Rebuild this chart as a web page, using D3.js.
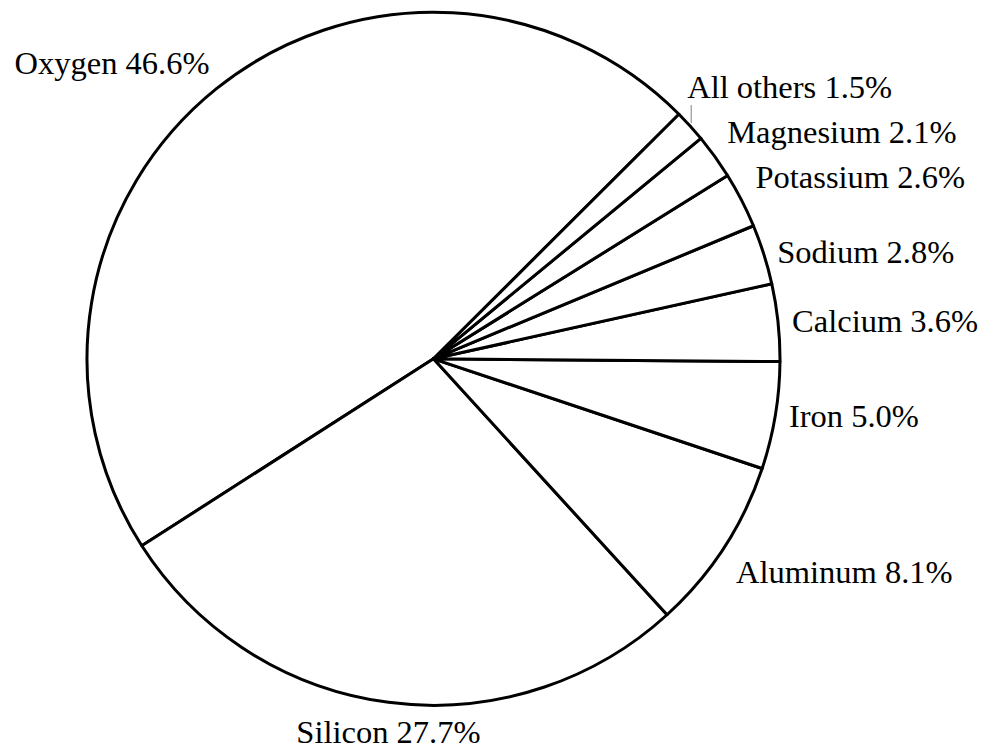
<!DOCTYPE html>
<html>
<head>
<meta charset="utf-8">
<script src="https://cdn.jsdelivr.net/npm/d3@7"></script>
<style>
  html, body { margin: 0; padding: 0; background: #fff; }
  svg { display: block; }
</style>
</head>
<body>
<div id="chart"></div>
<script>
// data: Earth's crust composition by mass
const elements = ["Oxygen", "Silicon", "Aluminum", "Iron", "Calcium", "Sodium", "Potassium", "Magnesium", "All others"];
const percents = [46.6, 27.7, 8.1, 5.0, 3.6, 2.8, 2.6, 2.1, 1.5];

const width = 981, height = 749;
const cx = 433.5, cy = 358.8, radius = 346.5;

// label placement, relative to the outer point of each slice's middle angle
const labelNudge = {
  "Oxygen":     {dx: -7,  dy: -15,  anchor: "end"},
  "Silicon":    {dx: 0,   dy: 40.5, anchor: "middle"},
  "Aluminum":   {dx: 12,  dy: 35.5, anchor: "start"},
  "Iron":       {dx: 13.6, dy: 11.6, anchor: "start"},
  "Calcium":    {dx: 14,  dy: 10,   anchor: "start"},
  "Sodium":     {dx: 13.4, dy: 8.5, anchor: "start"},
  "Potassium":  {dx: 14,  dy: -12,  anchor: "start"},
  "Magnesium":  {dx: 12.4, dy: -14, anchor: "start"},
  "All others": {dx: -3,  dy: -28,  anchor: "start", leader: true}
};

const data = elements.map((name, i) => ({name: name, value: percents[i]}));

const startDeg = 45.1;
const pie = d3.pie()
  .sort(null)
  .value(d => d.value)
  .startAngle(startDeg * Math.PI / 180)
  .endAngle((startDeg - 360) * Math.PI / 180);

const arcs = pie(data);

const arc = d3.arc().innerRadius(0).outerRadius(radius);

const svg = d3.select("#chart")
  .append("svg")
  .attr("width", width)
  .attr("height", height);

const g = svg.append("g")
  .attr("transform", "translate(" + cx + "," + cy + ")");

g.selectAll("path.slice")
  .data(arcs)
  .enter()
  .append("path")
  .attr("class", "slice")
  .attr("d", arc)
  .attr("fill", "#fff")
  .attr("stroke", "#000")
  .attr("stroke-width", 3)
  .attr("stroke-linejoin", "round");

// outer point of a slice at its middle angle
function outerPoint(d) {
  const a = (d.startAngle + d.endAngle) / 2;
  return [radius * Math.sin(a), -radius * Math.cos(a)];
}

arcs.forEach(d => {
  const n = labelNudge[d.data.name];
  const p = outerPoint(d);
  const lx = p[0] + n.dx, ly = p[1] + n.dy;

  if (n.leader) {
    g.append("line")
      .attr("x1", p[0] + 1)
      .attr("x2", p[0] + 1)
      .attr("y1", ly + 7)
      .attr("y2", p[1] - 3)
      .attr("stroke", "#808080")
      .attr("stroke-width", 1);
  }

  g.append("text")
    .attr("x", lx)
    .attr("y", ly)
    .attr("text-anchor", n.anchor)
    .style("font-family", "'Liberation Serif', serif")
    .style("font-size", "32.5px")
    .attr("fill", "#000")
    .text(d.data.name + " " + d3.format(".1f")(d.data.value) + "%");
});
</script>
</body>
</html>
